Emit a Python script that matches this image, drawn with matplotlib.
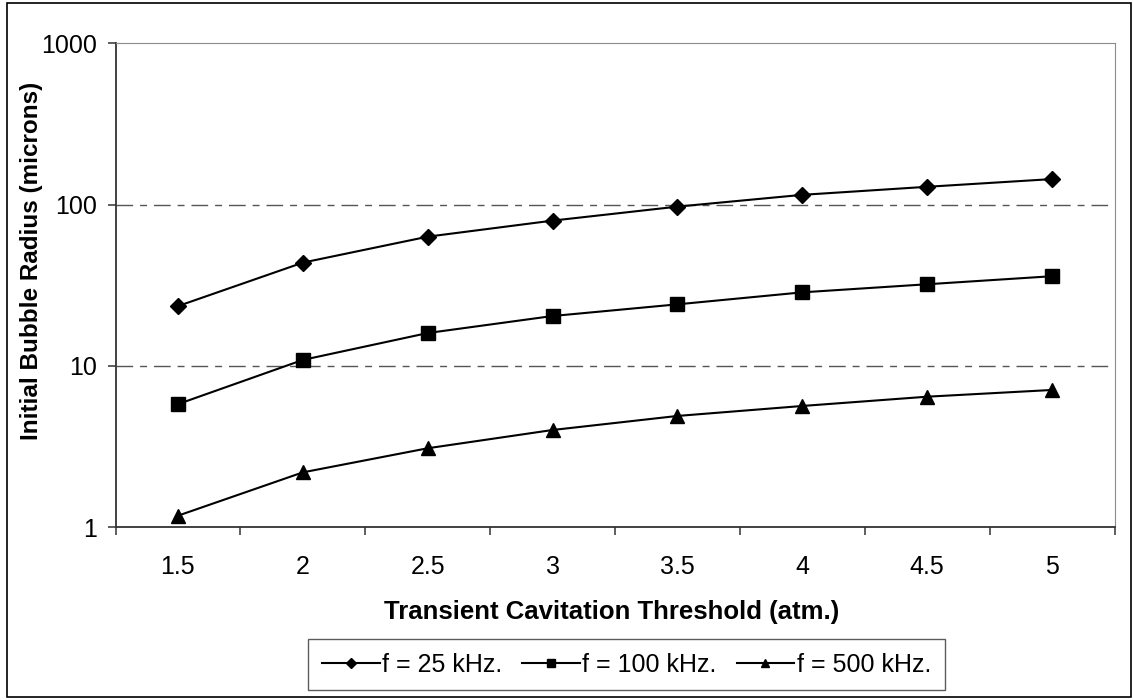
#!/usr/bin/env python3
"""Initial bubble radius vs transient cavitation threshold, three frequencies."""

import matplotlib

matplotlib.use("Agg")
import matplotlib.pyplot as plt
from matplotlib.patches import Rectangle

plt.rcParams["font.family"] = ["Liberation Sans", "DejaVu Sans"]

thresholds = ["1.5", "2", "2.5", "3", "3.5", "4", "4.5", "5"]
radius_25khz = [23.5, 43.7, 63.3, 79.6, 97.2, 115, 129, 144]
radius_100khz = [5.8, 10.9, 16.0, 20.4, 24.1, 28.6, 32.1, 36.0]
radius_500khz = [1.18, 2.19, 3.09, 4.01, 4.90, 5.65, 6.45, 7.10]

series = [
    ("f = 25 kHz.", radius_25khz, "D", 8.3),
    ("f = 100 kHz.", radius_100khz, "s", 9.5),
    ("f = 500 kHz.", radius_500khz, "^", 9.8),
]

W, H = 1133, 700
fig = plt.figure(figsize=(W / 100, H / 100), dpi=100)
ax = fig.add_axes([115.5 / W, 1 - 527.3 / H, 999 / W, 484 / H])

# outer chart border
fig.patches.append(Rectangle((7 / W, 3 / H), 1124 / W, 694 / H, transform=fig.transFigure,
                             fill=False, edgecolor="black", linewidth=1.2))

pos = list(range(len(thresholds)))
for label, vals, marker, ms in series:
    ax.plot(pos, vals, color="black", linewidth=1.5, marker=marker, markersize=ms,
            markerfacecolor="black", markeredgecolor="black", label=label)

ax.set_yscale("log")
ax.set_ylim(1, 1000)
ax.set_xlim(-0.5, len(thresholds) - 0.5)
ax.set_yticks([1, 10, 100, 1000])
ax.set_yticklabels(["1", "10", "100", "1000"])
ax.minorticks_off()
ax.set_xticks(pos)
ax.set_xticklabels(thresholds)
ax.set_xticks([p - 0.5 for p in pos] + [len(pos) - 0.5], minor=True)

ax.tick_params(axis="x", which="major", length=0, pad=20, labelsize=18)
ax.tick_params(axis="x", which="minor", length=6, width=1.1, direction="out", color="#333333")
ax.tick_params(axis="y", which="major", length=6, width=1.1, direction="out", color="#333333",
               pad=7, labelsize=18)

for y in [10, 100]:
    ax.axhline(y, color="#555555", linewidth=1.0, dashes=(12, 5, 5, 5), zorder=0)

ax.spines["left"].set_color("#333333")
ax.spines["bottom"].set_color("#333333")
ax.spines["left"].set_linewidth(1.3)
ax.spines["bottom"].set_linewidth(1.3)
ax.spines["top"].set_color("#8c8c8c")
ax.spines["right"].set_color("#8c8c8c")

ax.set_xlabel("Transient Cavitation Threshold (atm.)", fontsize=18.5, fontweight="bold")
ax.xaxis.set_label_coords(0.497, 1 - (612 - 43.3) / 484)
ax.xaxis.label.set_va("center")
ax.set_ylabel("Initial Bubble Radius (microns)", fontsize=17.5, fontweight="bold")
ax.yaxis.set_label_coords((32 - 115.5) / 999, 1 - (261 - 43.3) / 484)
ax.yaxis.label.set_va("center")

leg = ax.legend(loc="center", bbox_to_anchor=(626.5 / W, 1 - 664.5 / H),
                bbox_transform=fig.transFigure, ncol=3, fontsize=18, frameon=True,
                fancybox=False, edgecolor="#333333", handlelength=2.3, handletextpad=0.1,
                columnspacing=0.8, markerscale=0.65, borderpad=0.55, borderaxespad=0)
leg.get_frame().set_linewidth(1.0)

fig.savefig("out.png", dpi=100)
